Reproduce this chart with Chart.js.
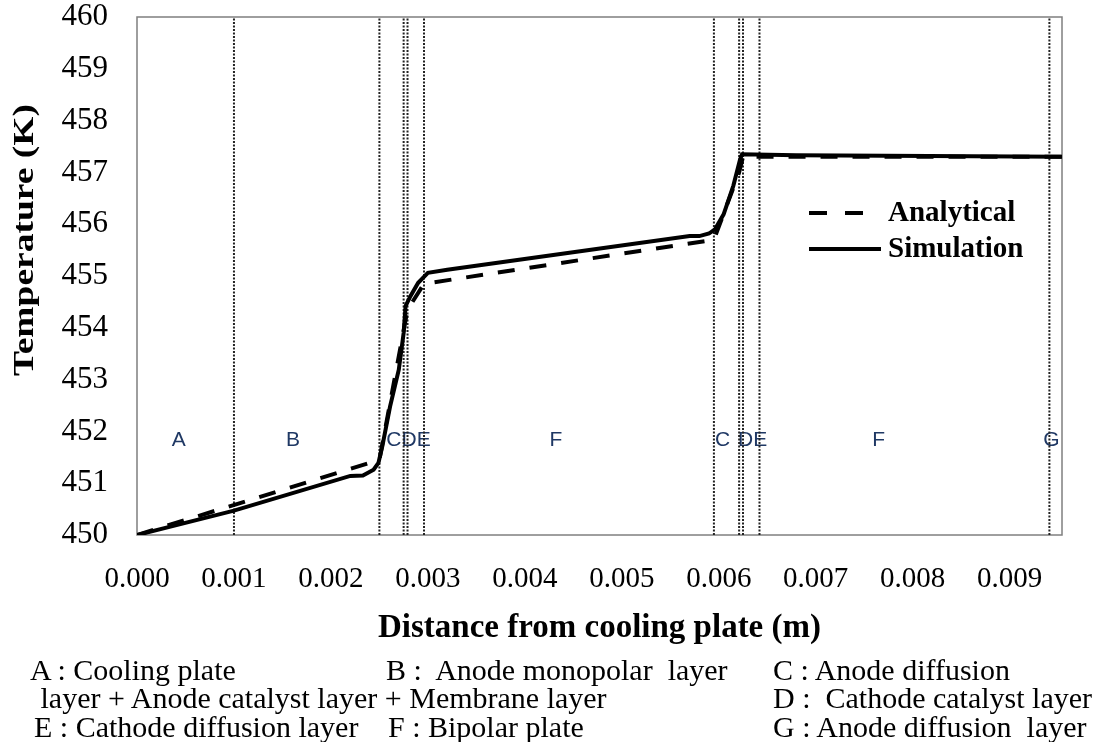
<!DOCTYPE html>
<html><head><meta charset="utf-8">
<script src="https://cdn.jsdelivr.net/npm/chart.js@4.4.1/dist/chart.umd.min.js"></script>
<style>
html,body{margin:0;padding:0;background:#fff;}
#wrap{position:relative;width:1095px;height:742px;overflow:hidden;}
#c{position:absolute;left:0;top:0;}
.note{position:absolute;font-family:"Liberation Serif","Times New Roman",serif;font-size:30px;color:#000;white-space:pre;line-height:29px;}
</style></head><body>
<div id="wrap">
<canvas id="c" width="1095" height="742"></canvas>
<div class="note" style="left:30px;top:655px">A : Cooling plate</div>
<div class="note" style="left:386px;top:655px">B :  Anode monopolar  layer</div>
<div class="note" style="left:773px;top:655px">C : Anode diffusion</div>
<div class="note" style="left:33px;top:683px"> layer + Anode catalyst layer + Membrane layer</div>
<div class="note" style="left:773px;top:683px">D :  Cathode catalyst layer</div>
<div class="note" style="left:34px;top:712px">E : Cathode diffusion layer</div>
<div class="note" style="left:388px;top:712px">F : Bipolar plate</div>
<div class="note" style="left:773px;top:712px">G : Anode diffusion  layer</div>
</div>
<script>
// ---- data ----
const simX = [0, 0.001, 0.0022, 0.00233, 0.00244, 0.00249, 0.00253, 0.00261, 0.0027, 0.00275, 0.00277, 0.00282, 0.0029, 0.003, 0.0032, 0.0057, 0.0058, 0.0059, 0.00596, 0.00605, 0.00615, 0.00622, 0.00624, 0.0068, 0.00954];
const simY = [450.0, 450.47, 451.14, 451.15, 451.26, 451.39, 451.71, 452.48, 453.19, 453.9, 454.42, 454.61, 454.87, 455.06, 455.12, 455.77, 455.77, 455.82, 455.9, 456.19, 456.74, 457.25, 457.35, 457.33, 457.3];
const anaX = [0, 0.0025, 0.00275, 0.00279, 0.00296, 0.00595, 0.00621, 0.00625, 0.00954];
const anaY = [450.0, 451.45, 453.95, 454.35, 454.85, 455.7, 457.0, 457.3, 457.3];
const boundaries = [0.001, 0.0025, 0.00275, 0.00279, 0.00296, 0.00595, 0.00621, 0.00625, 0.00642, 0.00941];
const regionLabels = ['A', 'B', 'CDE', 'F', 'C', 'DE', 'F', 'G'];
const regionLabelX = [0.00043, 0.00161, 0.0028, 0.00432, 0.00604, 0.00635, 0.00765, 0.00943];
const regionLabelY = 451.83;
const xTicks = [0, 0.001, 0.002, 0.003, 0.004, 0.005, 0.006, 0.007, 0.008, 0.009];
const yTicks = [450, 451, 452, 453, 454, 455, 456, 457, 458, 459, 460];
const seriesNames = ['Analytical', 'Simulation'];
const xTitle = 'Distance from cooling plate (m)';
const yTitle = 'Temperature (K)';

const pts = (xs, ys) => xs.map((x, i) => ({x: x, y: ys[i]}));

const datasets = [
  {label: seriesNames[1], data: pts(simX, simY), borderColor: '#000', borderWidth: 4, pointRadius: 0, tension: 0, order: 0},
  {label: seriesNames[0], data: pts(anaX, anaY), borderColor: '#000', borderWidth: 4, borderDash: [17, 15], pointRadius: 0, tension: 0, order: 1}
];
boundaries.forEach(b => datasets.push({
  label: 'boundary', data: [{x: b, y: yTicks[0]}, {x: b, y: yTicks[yTicks.length - 1]}],
  borderColor: '#222', borderWidth: 2, borderDash: [2, 1.5], pointRadius: 0, order: 10
}));

const boxPlugin = {
  id: 'box',
  beforeDatasetsDraw(chart) {
    const {ctx, chartArea: a} = chart;
    ctx.save();
    ctx.strokeStyle = '#7f7f7f';
    ctx.lineWidth = 1.5;
    ctx.strokeRect(a.left, a.top, a.right - a.left, a.bottom - a.top);
    const xs = chart.scales.x, ys = chart.scales.y;
    ctx.fillStyle = '#1f3864';
    ctx.font = '21px "Liberation Sans", Arial, sans-serif';
    ctx.textAlign = 'center';
    ctx.textBaseline = 'middle';
    regionLabels.forEach((t, i) => {
      ctx.fillText(t, xs.getPixelForValue(regionLabelX[i]), ys.getPixelForValue(regionLabelY));
    });
    ctx.restore();
  },
  afterDraw(chart) {
    const ctx = chart.ctx;
    ctx.save();
    ctx.translate(25, 240);
    ctx.rotate(-Math.PI / 2);
    ctx.scale(1.25, 1);
    ctx.fillStyle = '#000';
    ctx.font = 'bold 30px "Liberation Serif", "Times New Roman", serif';
    ctx.textAlign = 'center';
    ctx.textBaseline = 'middle';
    ctx.fillText(yTitle, 0, 0);
    ctx.restore();

    ctx.save();
    ctx.strokeStyle = '#000';
    ctx.lineWidth = 4;
    ctx.setLineDash([18, 18]);
    ctx.beginPath(); ctx.moveTo(809, 213); ctx.lineTo(863, 213); ctx.stroke();
    ctx.setLineDash([]);
    ctx.beginPath(); ctx.moveTo(809, 249); ctx.lineTo(881, 249); ctx.stroke();
    ctx.fillStyle = '#000';
    ctx.font = 'bold 29px "Liberation Serif", "Times New Roman", serif';
    ctx.textAlign = 'left';
    ctx.textBaseline = 'middle';
    ctx.fillText(seriesNames[0], 888, 214);
    ctx.fillText(seriesNames[1], 888, 250);
    ctx.restore();
  }
};

new Chart(document.getElementById('c'), {
  type: 'line',
  data: {datasets: datasets},
  options: {
    responsive: false,
    animation: false,
    devicePixelRatio: 1,
    layout: {padding: {top: 17, right: 33, bottom: 87, left: 0}},
    plugins: {legend: {display: false}, tooltip: {enabled: false}},
    scales: {
      x: {
        type: 'linear', min: 0, max: 0.00954,
        afterBuildTicks: s => { s.ticks = xTicks.map(v => ({value: v})); },
        afterFit: s => { s.height = 120; s.paddingLeft = 0; s.paddingRight = 0; },
        grid: {display: false, drawTicks: false},
        border: {display: false},
        ticks: {color: '#000', padding: 27, maxRotation: 0, autoSkip: false,
          font: {family: '"Liberation Serif", "Times New Roman", serif', size: 29},
          callback: v => Number(v).toFixed(3)},
        title: {display: true, text: xTitle, color: '#000', padding: {top: 0, bottom: 7},
          font: {family: '"Liberation Serif", "Times New Roman", serif', size: 33, weight: 'bold'}}
      },
      y: {
        type: 'linear', min: 450, max: 460,
        afterBuildTicks: s => { s.ticks = yTicks.map(v => ({value: v})); },
        afterFit: s => { s.width = 137; s.paddingTop = 0; s.paddingBottom = 0; },
        grid: {display: false, drawTicks: false},
        border: {display: false},
        ticks: {color: '#000', padding: 29,
          font: {family: '"Liberation Serif", "Times New Roman", serif', size: 31}},
        title: {display: false}
      }
    }
  },
  plugins: [boxPlugin]
});
</script>
</body></html>
